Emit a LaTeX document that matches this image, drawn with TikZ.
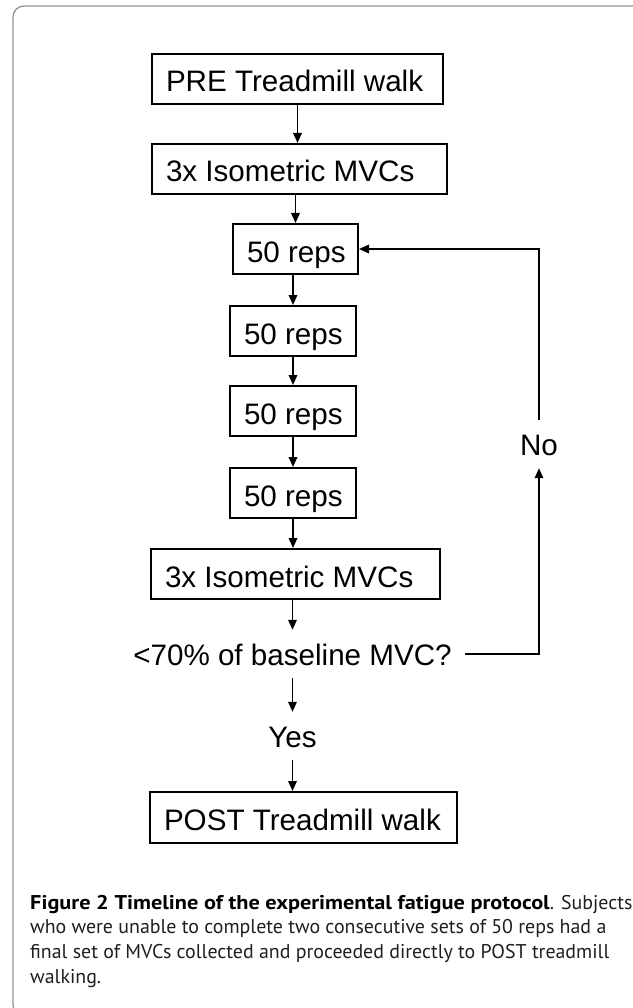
\documentclass[tikz,border=0pt]{standalone}
\usepackage{fontspec}
\setmainfont{Liberation Sans}
\newfontfamily\capfont[BoldFeatures={FakeStretch=1.12}]{PT Sans}
\usetikzlibrary{arrows.meta}
% left-aligned label of fixed width inside a step box
\newcommand\steptext[2]{\makebox[#1][l]{#2}}
\begin{document}
\begin{tikzpicture}[x=1pt,y=-1pt,
  flow/.style={font=\fontsize{29.6}{34}\selectfont},
  box/.style={flow, draw, line width=2pt, anchor=north west, inner xsep=14pt,
    inner ysep=0pt, minimum height=50pt, text height=26pt, text depth=0pt},
  lbl/.style={flow, anchor=base, inner xsep=13pt, inner ysep=13pt,
    text height=22pt, text depth=0pt},
  arr/.style={line width=1.8pt, -{Triangle[length=10pt,width=8.5pt]}},
  capline/.style={anchor=base west, inner sep=0pt,
    font={\capfont\fontsize{19.9pt}{25pt}\selectfont}, text=black!88},
  frame/.style={draw=black!42, line width=1.3pt, rounded corners=11pt},
]
\useasboundingbox (0,0) rectangle (632,1008);

% outer panel frame (open to the right and bottom)
\draw[frame] (13,6) rectangle (645,1016);

% protocol steps
\node[box] (pre)  at (151,53)  {\steptext{263pt}{PRE Treadmill walk}};
\node[box] (isoA) at (151,143) {\steptext{267pt}{3x Isometric MVCs}};
\node[box] (repA) at (232,223) {\steptext{97pt}{50 reps}};
\node[box] (repB) at (229,305) {\steptext{98pt}{50 reps}};
\node[box] (repC) at (229,385) {\steptext{98pt}{50 reps}};
\node[box] (repD) at (229,467) {\steptext{98pt}{50 reps}};
\node[box] (isoB) at (150,548) {\steptext{261pt}{3x Isometric MVCs}};
\node[lbl] (ask) at (292.5,665) {<70\% of baseline MVC?};
\node[lbl] (yes) at (292.5,747) {Yes};
\node[box, minimum height=51pt] (post) at (149,791) {\steptext{279pt}{POST Treadmill walk}};
\node[lbl] (no) at (539,455) {No};

% main sequence
\draw[arr] (pre.south) -- (pre.south |- isoA.north);
\draw[arr] (repA.north |- isoA.south) -- (repA.north);
\draw[arr] (repB.north |- repA.south) -- (repB.north);
\draw[arr] (repB.south) -- (repC.north);
\draw[arr] (repC.south) -- (repD.north);
\draw[arr] (repD.south) -- (repD.south |- isoB.north);
\draw[arr] (ask.north |- isoB.south) -- (ask.north);
\draw[arr] (ask.south) -- (yes.north);
\draw[arr] (yes.south) -- (yes.south |- post.north);

% repeat loop
\draw[arr] (ask.east) -- (ask.east -| no.south) -- (no.south);
\draw[arr] (no.north) |- (repA.east);

% caption
\node[capline] (cap1) at (30,909) {{\color{black}\bfseries Figure 2 Timeline of the experimental fatigue protocol}. Subjects};
\node[capline] (cap2) at (30,933) {who were unable to complete two consecutive sets of 50 reps had a};
\node[capline] (cap3) at (30,958) {final set of MVCs collected and proceeded directly to POST treadmill};
\node[capline] (cap4) at (30,983) {walking.};
\end{tikzpicture}
\end{document}
